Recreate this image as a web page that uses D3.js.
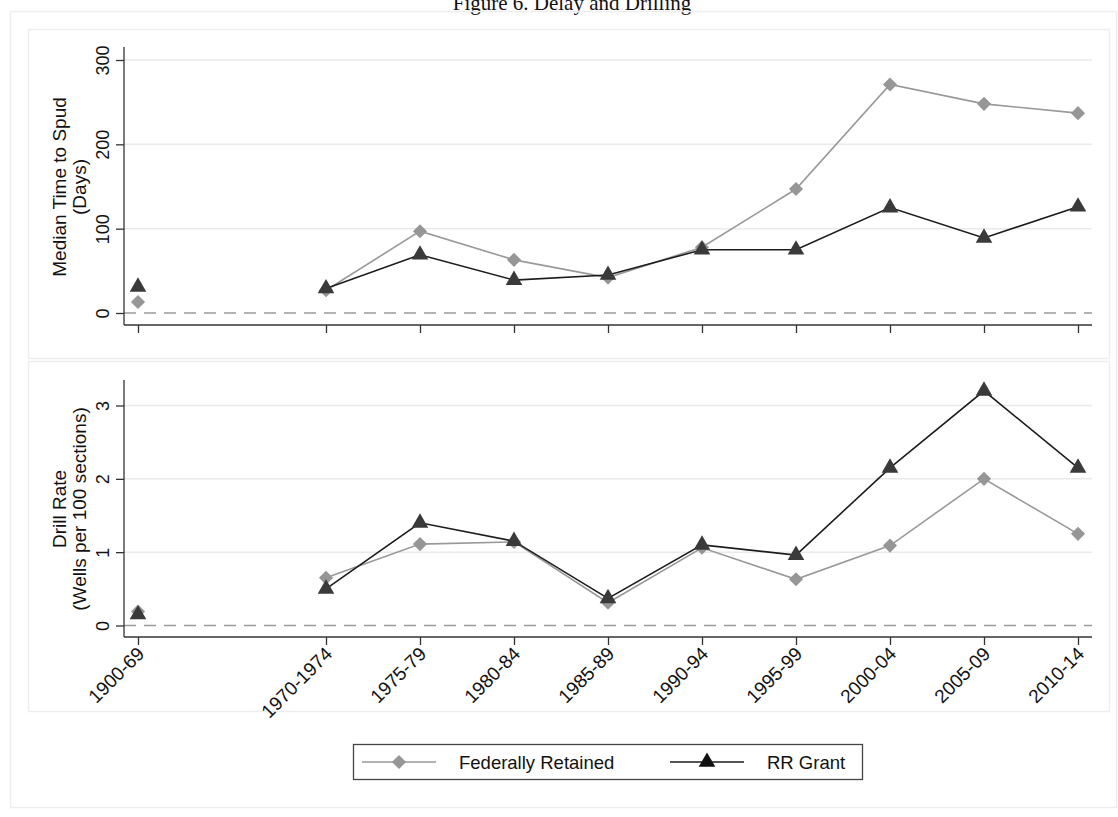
<!DOCTYPE html>
<html>
<head>
<meta charset="utf-8">
<script src="https://cdn.jsdelivr.net/npm/d3@7"></script>
<style>
  html, body { margin: 0; padding: 0; background: #fff; }
  svg { display: block; }
  text { font-family: "Liberation Sans", Arial, sans-serif; fill: #111; }
</style>
</head>
<body>
<svg id="chart" width="1118" height="817"></svg>
<script>
// Period labels and their positions on the time axis
const categories = ["1900-69", "1970-1974", "1975-79", "1980-84", "1985-89",
                    "1990-94", "1995-99", "2000-04", "2005-09", "2010-14"];
const periodPos = [1960, 1970, 1975, 1980, 1985, 1990, 1995, 2000, 2005, 2010];

// Median time to spud (days)
const spudFederal = [13, 27, 97, 63, 42, 78, 147, 271, 248, 237];
const spudRR      = [31, 29, 69, 39, 45, 75, 75, 125, 89, 126];

// Drill rate (wells per 100 sections)
const drillFederal = [0.19, 0.65, 1.11, 1.14, 0.31, 1.06, 0.63, 1.09, 2.00, 1.25];
const drillRR      = [0.15, 0.50, 1.40, 1.15, 0.37, 1.10, 0.96, 2.15, 3.20, 2.15];

const spudTicks = [0, 100, 200, 300];
const drillTicks = [0, 1, 2, 3];

const seriesNames = ["Federally Retained", "RR Grant"];

const svg = d3.select("#chart");

// Figure title
svg.append("text")
  .attr("x", 572).attr("y", 10)
  .attr("text-anchor", "middle")
  .style("font-family", "'Liberation Serif', 'Times New Roman', serif")
  .style("font-size", "21px")
  .text("Figure 6. Delay and Drilling");

// Outer frame and panel frames
const frameColor = "#ededed";
svg.append("rect").attr("x", 10.5).attr("y", 11.5).attr("width", 1106).attr("height", 796)
  .attr("fill", "none").attr("stroke", frameColor).attr("stroke-width", 1.5);
svg.append("rect").attr("x", 28.5).attr("y", 29.5).attr("width", 1081).attr("height", 329)
  .attr("fill", "none").attr("stroke", frameColor).attr("stroke-width", 1.5);
svg.append("rect").attr("x", 28.5).attr("y", 361.5).attr("width", 1081).attr("height", 350)
  .attr("fill", "none").attr("stroke", frameColor).attr("stroke-width", 1.5);

const x = d3.scaleLinear().domain([1960, 2010]).range([138, 1078]);
const plotLeft = 124, plotRight = 1092;

const fedColor = "#999999", fedMarker = "#969696";
const rrColor = "#1c1c1c", rrMarker = "#3a3a3a";

const diamond = d3.symbol().type(d3.symbolSquare).size(100);
const triangle = d3.symbol().type(d3.symbolTriangle).size(120);

function panel(cfg) {
  const g = svg.append("g");
  const y = d3.scaleLinear().domain(cfg.domain).range(cfg.range);

  // Horizontal grid lines
  g.selectAll(".grid").data(cfg.ticks.filter(t => t !== 0)).join("line")
    .attr("x1", plotLeft).attr("x2", plotRight)
    .attr("y1", d => y(d)).attr("y2", d => y(d))
    .attr("stroke", "#e9e9e9").attr("stroke-width", 1.5);

  // Dashed reference line at zero
  g.append("line")
    .attr("x1", plotLeft).attr("x2", plotRight)
    .attr("y1", y(0)).attr("y2", y(0))
    .attr("stroke", "#9a9a9a").attr("stroke-width", 1.4)
    .attr("stroke-dasharray", "12,8");

  // Y axis
  const yAxis = d3.axisLeft(y).tickValues(cfg.ticks).tickFormat(d3.format("d"))
    .tickSize(8).tickPadding(4);
  const ya = g.append("g").attr("transform", `translate(${plotLeft},0)`).call(yAxis);
  ya.select(".domain").attr("d", `M0,${cfg.axisTop}V${cfg.axisBottom}`)
    .attr("stroke", "#333").attr("stroke-width", 1.3);
  ya.selectAll(".tick line").attr("stroke", "#333").attr("stroke-width", 1.3);
  ya.selectAll(".tick text")
    .attr("x", null).attr("dy", null)
    .attr("transform", "translate(-15,0) rotate(-90)")
    .attr("text-anchor", "middle")
    .style("font-size", "18px").style("font-family", "'Liberation Sans', Arial, sans-serif")
    .attr("fill", "#111");

  // X axis
  const xAxis = d3.axisBottom(x).tickValues(periodPos).tickSize(8)
    .tickFormat(cfg.xLabels ? ((d, i) => categories[i]) : () => "");
  const xa = g.append("g").attr("transform", `translate(0,${cfg.axisBottom})`).call(xAxis);
  xa.select(".domain").attr("d", `M${plotLeft},0H${plotRight}`)
    .attr("stroke", "#333").attr("stroke-width", 1.3);
  xa.selectAll(".tick line").attr("stroke", "#333").attr("stroke-width", 1.3);
  if (cfg.xLabels) {
    xa.selectAll(".tick text")
      .attr("y", null).attr("dy", null)
      .attr("transform", "translate(7,18) rotate(-45)")
      .attr("text-anchor", "end")
      .style("font-size", "19px").style("font-family", "'Liberation Sans', Arial, sans-serif")
      .attr("fill", "#111");
  }

  // Y axis title (two lines)
  const mid = cfg.titleY;
  cfg.title.forEach((t, i) => {
    g.append("text")
      .attr("transform", `translate(${66 + i * 20},${mid}) rotate(-90)`)
      .attr("text-anchor", "middle")
      .style("font-size", "19px")
      .text(t);
  });

  // Lines start at the second period; the first period stands alone
  g.append("path").datum(cfg.fed.slice(1))
    .attr("d", d3.line().x((d, i) => x(periodPos[i + 1])).y(d => y(d)))
    .attr("fill", "none").attr("stroke", fedColor).attr("stroke-width", 1.6);
  g.selectAll(".fed").data(cfg.fed).join("path")
    .attr("transform", (d, i) => `translate(${x(periodPos[i])},${y(d)}) rotate(45)`)
    .attr("d", diamond).attr("fill", fedMarker);

  g.append("path").datum(cfg.rr.slice(1))
    .attr("d", d3.line().x((d, i) => x(periodPos[i + 1])).y(d => y(d)))
    .attr("fill", "none").attr("stroke", rrColor).attr("stroke-width", 1.6);
  g.selectAll(".rr").data(cfg.rr).join("path")
    .attr("transform", (d, i) => `translate(${x(periodPos[i])},${y(d)})`)
    .attr("d", triangle).attr("fill", rrMarker);
}

panel({
  domain: [0, 300], range: [313, 60], ticks: spudTicks,
  axisTop: 47, axisBottom: 325, xLabels: false,
  title: ["Median Time to Spud", "(Days)"], titleY: 187,
  fed: spudFederal, rr: spudRR
});

panel({
  domain: [0, 3], range: [625.5, 405.5], ticks: drillTicks,
  axisTop: 380, axisBottom: 637, xLabels: true,
  title: ["Drill Rate", "(Wells per 100 sections)"], titleY: 509,
  fed: drillFederal, rr: drillRR
});

// Legend
const lg = svg.append("g");
lg.append("rect").attr("x", 353.5).attr("y", 744.5).attr("width", 509).attr("height", 35)
  .attr("fill", "#fff").attr("stroke", "#444").attr("stroke-width", 1.3);
const legendItems = [
  { name: seriesNames[0], x0: 362, color: fedColor, marker: fedMarker, sym: diamond, rot: 45, tx: 459 },
  { name: seriesNames[1], x0: 670, color: rrColor, marker: "#111", sym: triangle, rot: 0, tx: 767 }
];
legendItems.forEach(it => {
  lg.append("line").attr("x1", it.x0).attr("x2", it.x0 + 74).attr("y1", 762).attr("y2", 762)
    .attr("stroke", it.color).attr("stroke-width", 1.6);
  lg.append("path").attr("transform", `translate(${it.x0 + 37},762) rotate(${it.rot})`)
    .attr("d", it.sym).attr("fill", it.marker);
  lg.append("text").attr("x", it.tx).attr("y", 769)
    .style("font-size", "18.5px").text(it.name);
});
</script>
</body>
</html>
